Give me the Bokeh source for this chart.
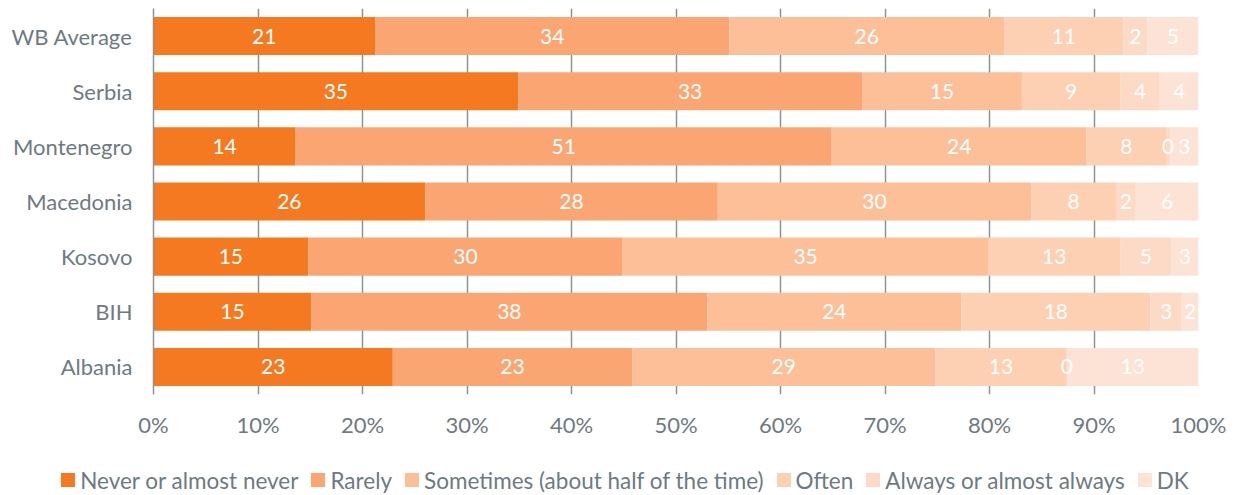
from bokeh.plotting import figure
from bokeh.layouts import column
from bokeh.models import ColumnDataSource, FactorRange, FixedTicker, PrintfTickFormatter, Div
from bokeh.core.properties import value
from bokeh.embed import file_html
from bokeh.resources import INLINE

countries = ["WB Average", "Serbia", "Montenegro", "Macedonia", "Kosovo", "BIH", "Albania"]
series = ["Never or almost never", "Rarely", "Sometimes (about half of the time)",
          "Often", "Always or almost always", "DK"]
never = [21.2, 34.9, 13.6, 26.0, 14.8, 15.1, 22.9]
rarely = [33.9, 32.9, 51.3, 28.0, 30.1, 37.9, 22.9]
sometimes = [26.3, 15.3, 24.4, 30.0, 35.0, 24.3, 29.0]
often = [11.4, 9.4, 7.6, 8.1, 12.6, 18.1, 12.6]
always = [2.3, 3.8, 0.4, 1.9, 4.9, 3.0, 0.0]
dk = [4.9, 3.7, 2.7, 6.0, 2.6, 1.6, 12.6]
ticks = [0, 10, 20, 30, 40, 50, 60, 70, 80, 90, 100]

colors = ["#F47920", "#FBA672", "#FDBF98", "#FDCFB3", "#FDDAC5", "#FDE3D5"]
keys = ["never", "rarely", "sometimes", "often", "always", "dk"]
vals = [never, rarely, sometimes, often, always, dk]

FONT = "Lato"
GREY = "#6E7A82"

data = {"country": countries}
for k, v in zip(keys, vals):
    data[k] = v
src = ColumnDataSource(data)

p = figure(width=1237, height=440, output_backend="svg", toolbar_location=None,
           y_range=FactorRange(factors=list(reversed(countries))), x_range=(0, 100),
           min_border_left=153, min_border_right=39, min_border_top=8, min_border_bottom=45)

renderers = p.hbar_stack(keys, y="country", height=0.69, color=colors, source=src, line_color=None)

# segment labels
lx, ly, lt = [], [], []
for i, c in enumerate(countries):
    start = 0.0
    for v in vals:
        w = v[i]
        lx.append(start + w / 2)
        ly.append(c)
        lt.append("%d" % round(w))
        start += w
lsrc = ColumnDataSource(dict(x=lx, y=ly, t=lt))
p.text(x="x", y="y", text="t", source=lsrc, text_color="white", text_align="center",
       text_baseline="middle", text_font=value(FONT), text_font_size="21px")

p.xaxis.ticker = FixedTicker(ticks=ticks)
p.xaxis.formatter = PrintfTickFormatter(format="%d%%")
p.xaxis.axis_line_color = None
p.xaxis.major_tick_line_color = None
p.xaxis.minor_tick_line_color = None
p.xaxis.major_label_standoff = 10
p.xaxis.major_label_text_font = FONT
p.xaxis.major_label_text_font_size = "22px"
p.xaxis.major_label_text_color = GREY

p.yaxis.axis_line_color = "#8A9399"
p.yaxis.axis_line_width = 1.5
p.yaxis.major_tick_line_color = None
p.yaxis.minor_tick_line_color = None
p.yaxis.major_label_standoff = 15
p.yaxis.major_label_text_font = FONT
p.yaxis.major_label_text_font_size = "22px"
p.yaxis.major_label_text_color = GREY

p.xgrid.grid_line_color = "#8A9399"
p.xgrid.grid_line_width = 1.5
p.ygrid.grid_line_color = None
p.outline_line_color = None

# legend as an HTML strip below the plot
parts = []
for i, (s, c) in enumerate(zip(series, colors)):
    ml = "0" if i == 0 else "13px"
    parts.append('<span style="display:inline-block;width:14px;height:14px;background:%s;'
                 'margin-left:%s;margin-right:5px;vertical-align:middle;"></span>'
                 '<span style="vertical-align:middle;">%s</span>' % (c, ml, s))
html = ('<div style="width:1237px;box-sizing:border-box;padding-left:13px;padding-top:24px;'
        'text-align:center;white-space:nowrap;font-family:Lato;font-size:22.5px;'
        'line-height:27px;color:%s;">%s</div>' % (GREY, "".join(parts)))
legend_div = Div(text=html, width=1237, height=55, margin=0)

open("out.html", "w").write(file_html(column(p, legend_div, spacing=0), INLINE))
